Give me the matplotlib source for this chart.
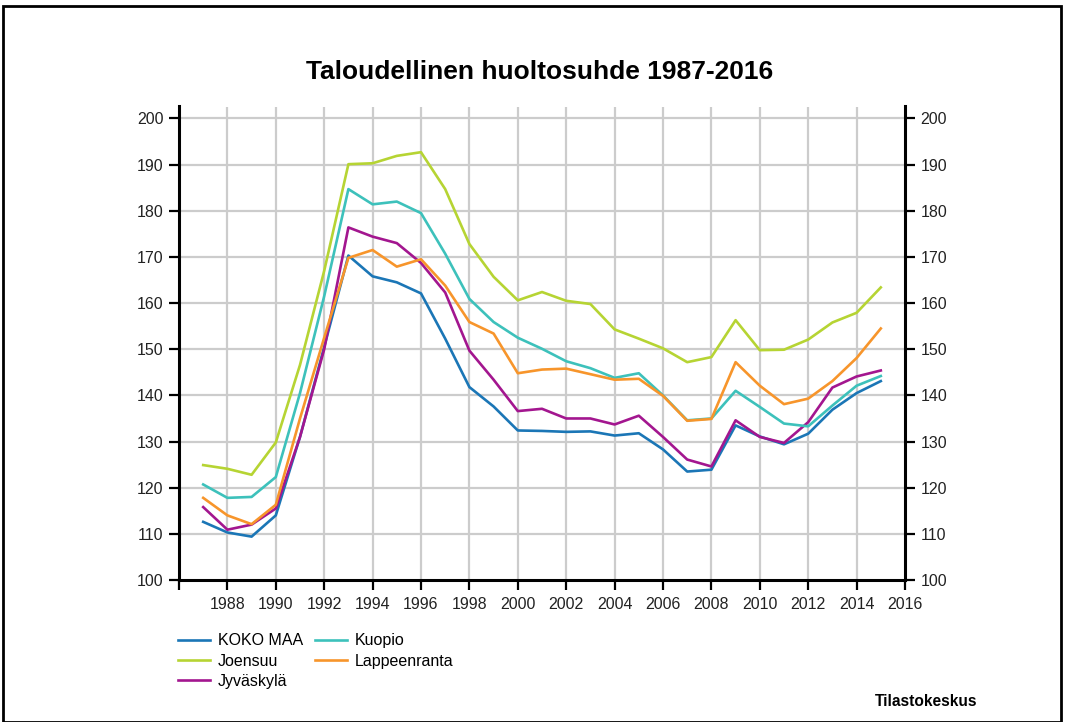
import matplotlib
matplotlib.use("Agg")
import matplotlib.pyplot as plt
from matplotlib.patches import Rectangle

plt.rcParams["font.family"] = ["Liberation Sans", "DejaVu Sans"]

years = list(range(1987, 2016))

koko_maa = [112.6, 110.3, 109.4, 114.0, 131.0, 150.5, 170.3, 165.8, 164.5, 162.1,
            152.3, 141.8, 137.6, 132.4, 132.3, 132.1, 132.2, 131.3, 131.8, 128.3,
            123.5, 123.9, 133.5, 131.1, 129.4, 131.7, 136.9, 140.5, 143.1]
joensuu = [124.9, 124.1, 122.8, 129.8, 146.6, 167.0, 190.1, 190.3, 191.9, 192.7,
           184.7, 172.8, 165.7, 160.6, 162.4, 160.5, 159.8, 154.3, 152.3, 150.2,
           147.2, 148.3, 156.3, 149.8, 149.9, 152.1, 155.8, 157.9, 163.4]
kuopio = [120.7, 117.8, 118.0, 122.3, 140.5, 161.5, 184.7, 181.4, 182.0, 179.5,
          170.7, 160.9, 155.9, 152.5, 150.1, 147.4, 145.9, 143.8, 144.8, 140.0,
          134.6, 135.0, 141.0, 137.5, 133.9, 133.3, 137.8, 142.1, 144.2]
lappeenranta = [117.8, 114.0, 112.1, 116.3, 135.0, 152.5, 169.8, 171.5, 167.9, 169.5,
                163.8, 155.9, 153.4, 144.8, 145.6, 145.8, 144.6, 143.4, 143.6, 139.9,
                134.5, 134.9, 147.2, 142.1, 138.1, 139.3, 143.1, 148.1, 154.5]
jyvaskyla = [115.8, 110.9, 112.0, 115.5, 131.0, 150.0, 176.4, 174.4, 173.0, 168.7,
             162.3, 149.7, 143.4, 136.6, 137.1, 135.0, 135.0, 133.7, 135.6, 131.0,
             126.1, 124.6, 134.6, 131.0, 129.7, 134.2, 141.7, 144.1, 145.4]

series = [
    ("KOKO MAA", koko_maa, "#1b76b6"),
    ("Joensuu", joensuu, "#b6d433"),
    ("Jyväskylä", jyvaskyla, "#a3168f"),
    ("Kuopio", kuopio, "#3dc1bb"),
    ("Lappeenranta", lappeenranta, "#f7952b"),
]

fig = plt.figure(figsize=(10.65, 7.22), dpi=100)
ax = fig.add_axes([179 / 1065, 1 - 580 / 722, (905 - 179) / 1065, (580 - 106.5) / 722])

for name, vals, color in series:
    ax.plot(years, vals, color=color, lw=1.9, label=name)

ax.set_xlim(1986, 2016)
ax.set_ylim(100, 202.6)
ax.set_xticks(range(1986, 2017, 2))
ax.set_xticklabels([""] + [str(y) for y in range(1988, 2017, 2)])
ax.set_yticks(range(100, 201, 10))

for y in range(110, 201, 10):
    ax.axhline(y, color="#cccccc", lw=1.6, zorder=0)
for x in range(1988, 2016, 2):
    ax.axvline(x, color="#cccccc", lw=1.6, zorder=0)

ax.spines["top"].set_visible(False)
for s in ("left", "right", "bottom"):
    ax.spines[s].set_linewidth(2.2)
    ax.spines[s].set_color("black")

ax.tick_params(axis="both", direction="out", length=7, width=1.6, labelsize=11.5,
               colors="black", labelcolor="#222222", pad=4)
ax.tick_params(axis="y", right=True, labelright=True)
ax.tick_params(axis="x", pad=5)

fig.text(540 / 1065, 0.9, "Taloudellinen huoltosuhde 1987-2016", ha="center", va="center",
         fontsize=19, fontweight="bold")
fig.text(977 / 1065, 1 - 701 / 722, "Tilastokeskus", ha="right", va="center",
         fontsize=11.2, fontweight="bold")

fig.legend(loc="upper left", bbox_to_anchor=(172 / 1065, 1 - 627 / 722), ncol=2,
           frameon=False, fontsize=11.5, handlelength=2.0, handletextpad=0.45,
           columnspacing=0.8, labelspacing=0.33, borderaxespad=0)

fig.patches.append(Rectangle((3 / 1065, 0), 1058 / 1065, 1 - 6 / 722, transform=fig.transFigure,
                             fill=False, edgecolor="black", lw=2))

fig.savefig("out.png", dpi=100)
